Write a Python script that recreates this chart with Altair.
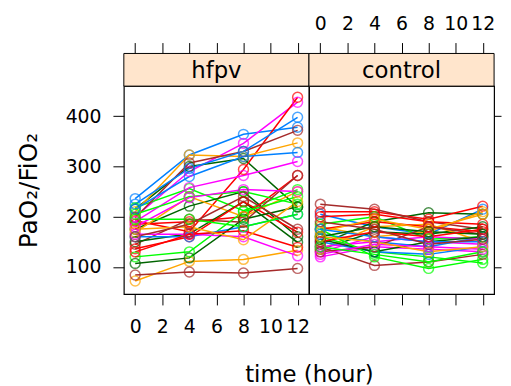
import altair as alt
import pandas as pd

times = [0, 4, 8, 12]
groups = ["hfpv", "control"]

# values, one entry per subject (colours cycle by subject)
hfpv_t0 = [236, 200, 215, 192, 210, 218, 198, 225, 190, 175, 185, 169, 205, 145,
           215, 180, 150, 136, 72, 120, 84, 160, 165, 107, 130, 175, 195, 160]
hfpv_t4 = [323, 290, 300, 170, 323, 256, 307, 296, 258, 221, 190, 240, 240, 195,
           280, 238, 166, 160, 111, 130, 90, 160, 165, 118, 165, 180, 195, 185]
hfpv_t8 = [364, 346, 316, 294, 320, 212, 330, 330, 282, 250, 200, 200, 250, 189,
           320, 254, 230, 230, 115, 210, 88, 180, 160, 195, 172, 154, 180, 240]
hfpv_t12 = [378, 428, 219, 438, 347, 254, 372, 398, 310, 160, 282, 250, 225, 282,
            328, 250, 149, 169, 133, 240, 97, 205, 122, 220, 139, 230, 205, 175]

control_t0 = [205, 130, 145, 210, 180, 185, 225, 165, 120, 135, 200, 135, 160, 140,
              150, 140, 155, 175, 170, 175, 130, 175, 125, 160, 150, 160, 140, 190]
control_t4 = [180, 160, 190, 210, 160, 200, 215, 150, 140, 170, 205, 180, 130, 103,
              130, 150, 130, 190, 195, 120, 140, 160, 145, 180, 170, 150, 125, 175]
control_t8 = [165, 150, 208, 195, 170, 155, 190, 140, 135, 165, 190, 185, 120, 110,
              125, 160, 150, 180, 175, 97, 180, 150, 140, 170, 160, 130, 110, 145]
control_t12 = [215, 145, 205, 221, 210, 160, 175, 160, 130, 180, 185, 150, 108, 125,
               140, 155, 160, 170, 205, 115, 165, 150, 135, 165, 175, 140, 130, 155]

palette = ["#0080ff", "#ff00ff", "#006400", "#ff0000", "#ffa500", "#00ff00", "#a52a2a"]
x_ticks = [0, 2, 4, 6, 8, 10, 12]
y_ticks = [100, 200, 300, 400]

series = {
    "hfpv": [hfpv_t0, hfpv_t4, hfpv_t8, hfpv_t12],
    "control": [control_t0, control_t4, control_t8, control_t12],
}
rows = []
for g in groups:
    cols = series[g]
    for i in range(len(cols[0])):
        for t, arr in zip(times, cols):
            rows.append({"group": g, "subject": f"{g}{i:02d}", "time": t,
                         "value": arr[i], "col": palette[i % len(palette)]})
df = pd.DataFrame(rows)

FONT = "DejaVu Sans"
W, H, SH = 187, 210, 33
TICK = 11


def panel(name, left):
    d = df[df.group == name]
    strip_df = pd.DataFrame({"label": [name]})
    xs = alt.Scale(domain=[-0.84, 12.84], nice=False, zero=False)
    ys = alt.Scale(domain=[46, 460], nice=False, zero=False)
    if left:
        x_bottom = alt.X("time:Q", scale=xs, axis=alt.Axis(
            orient="bottom", values=x_ticks, tickSize=TICK, labelPadding=13,
            labelOverlap=False, labelFlush=False, title="time (hour)",
            titleX=W, titleAlign="center", titlePadding=27))
        y_enc = alt.Y("value:Q", scale=ys, axis=alt.Axis(
            orient="left", values=y_ticks, tickSize=TICK, labelPadding=12,
            title="PaO₂/FiO₂", titleFontSize=25, titlePadding=24))
    else:
        x_bottom = alt.X("time:Q", scale=xs, axis=alt.Axis(
            orient="bottom", values=x_ticks, tickSize=TICK, labels=False, title=None))
        y_enc = alt.Y("value:Q", scale=ys, axis=alt.Axis(
            orient="right", values=y_ticks, tickSize=7, labels=False, title=None))
    x_top = alt.X("time:Q", scale=xs, axis=alt.Axis(
        orient="top", offset=SH, values=x_ticks, tickSize=TICK, labels=not left,
        labelPadding=9, labelOverlap=False, labelFlush=False, title=None))

    strip = alt.Chart(strip_df).mark_rect(
        fill="#ffe5cc", stroke="black", strokeWidth=1).encode(
        x=alt.value(0), x2=alt.value(W), y=alt.value(-SH), y2=alt.value(0))
    strip_text = alt.Chart(strip_df).mark_text(
        font=FONT, fontSize=23, color="black", baseline="middle").encode(
        x=alt.value(W / 2), y=alt.value(-SH / 2 + 1), text="label:N")
    lines = alt.Chart(d).mark_line(strokeWidth=1.5).encode(
        x=x_bottom, y=y_enc, color=alt.Color("col:N", scale=None),
        detail="subject:N", order="time:Q")
    points = alt.Chart(d).mark_point(
        shape="circle", filled=False, size=100, strokeWidth=1.5).encode(
        x=x_bottom, y=y_enc, color=alt.Color("col:N", scale=None))
    main = alt.layer(strip, strip_text, lines, points)
    top = alt.Chart(d).mark_point(opacity=0).encode(x=x_top, y=y_enc)
    return alt.layer(main, top).resolve_scale(x="independent").resolve_axis(
        x="independent").properties(width=W, height=H)


chart = alt.hconcat(panel("hfpv", True), panel("control", False),
                    spacing=0, bounds="flush").properties(
    padding={"left": 8, "top": 4, "right": 0, "bottom": 0}
).configure_view(stroke="black", strokeWidth=1.2).configure_axis(
    labelFont=FONT, labelFontSize=19, labelColor="black", tickColor="black",
    tickWidth=1, titleFont=FONT, titleFontSize=23, titleFontWeight="normal",
    titleColor="black", grid=False, domain=False)

chart.save("out.html", embed_options={"renderer": "svg", "actions": False})
